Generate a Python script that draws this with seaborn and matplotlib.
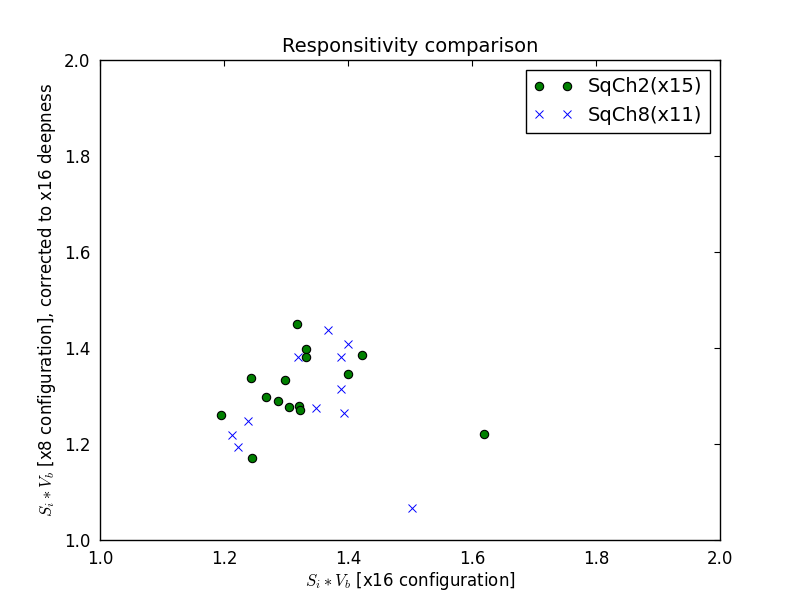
import matplotlib
matplotlib.use("Agg")
import matplotlib.pyplot as plt
import seaborn as sns

sq2_x = [1.195, 1.244, 1.245, 1.268, 1.287, 1.298, 1.305, 1.318, 1.321, 1.323, 1.332, 1.332, 1.400, 1.423, 1.619]
sq2_y = [1.260, 1.3375, 1.171, 1.298, 1.290, 1.333, 1.277, 1.450, 1.279, 1.271, 1.398, 1.381, 1.346, 1.385, 1.221]
sq8_x = [1.213, 1.223, 1.239, 1.319, 1.348, 1.368, 1.389, 1.389, 1.394, 1.400, 1.503]
sq8_y = [1.219, 1.194, 1.248, 1.381, 1.275, 1.4375, 1.315, 1.381, 1.265, 1.408, 1.067]

sns.set_style("white")
plt.rcParams.update({"font.size": 12, "xtick.direction": "in", "ytick.direction": "in",
                     "mathtext.fontset": "cm", "text.color": "black",
                     "axes.labelcolor": "black"})
fig = plt.figure(figsize=(8, 6), dpi=100)
ax = fig.add_axes([0.125, 0.1, 0.775, 0.8])
sns.lineplot(x=sq2_x, y=sq2_y, ax=ax, linestyle="none", marker="o", markersize=6,
             color="green", markeredgecolor="black", markeredgewidth=0.8,
             label="SqCh2(x15)", sort=False, estimator=None)
sns.lineplot(x=sq8_x, y=sq8_y, ax=ax, linestyle="none", marker="x", markersize=6,
             color="blue", markeredgecolor="blue", markeredgewidth=0.7,
             label="SqCh8(x11)", sort=False, estimator=None)
ax.set_xlim(1.0, 2.0)
ax.set_ylim(1.0, 2.0)
ax.set_xticks([1.0, 1.2, 1.4, 1.6, 1.8, 2.0])
ax.set_yticks([1.0, 1.2, 1.4, 1.6, 1.8, 2.0])
for s in ax.spines.values():
    s.set_color("black"); s.set_linewidth(1)
ax.tick_params(direction="in", length=4, top=True, right=True, labelsize=12,
               colors="black", pad=7)
ax.set_title("Responsitivity comparison", fontsize=14, color="black")
ax.set_xlabel(r"$S_i*V_b$ [x16 configuration]", fontsize=12, labelpad=2)
ax.set_ylabel(r"$S_i*V_b$ [x8 configuration], corrected to x16 deepness", fontsize=12)
leg = ax.legend(loc="upper right", numpoints=2, fontsize=14, fancybox=False,
                edgecolor="black", framealpha=1)
leg.get_frame().set_linewidth(1)
for h in leg.legend_handles:
    h.set_linestyle("none")
for t in leg.get_texts():
    t.set_color("black")
fig.savefig("out.png", dpi=100)
